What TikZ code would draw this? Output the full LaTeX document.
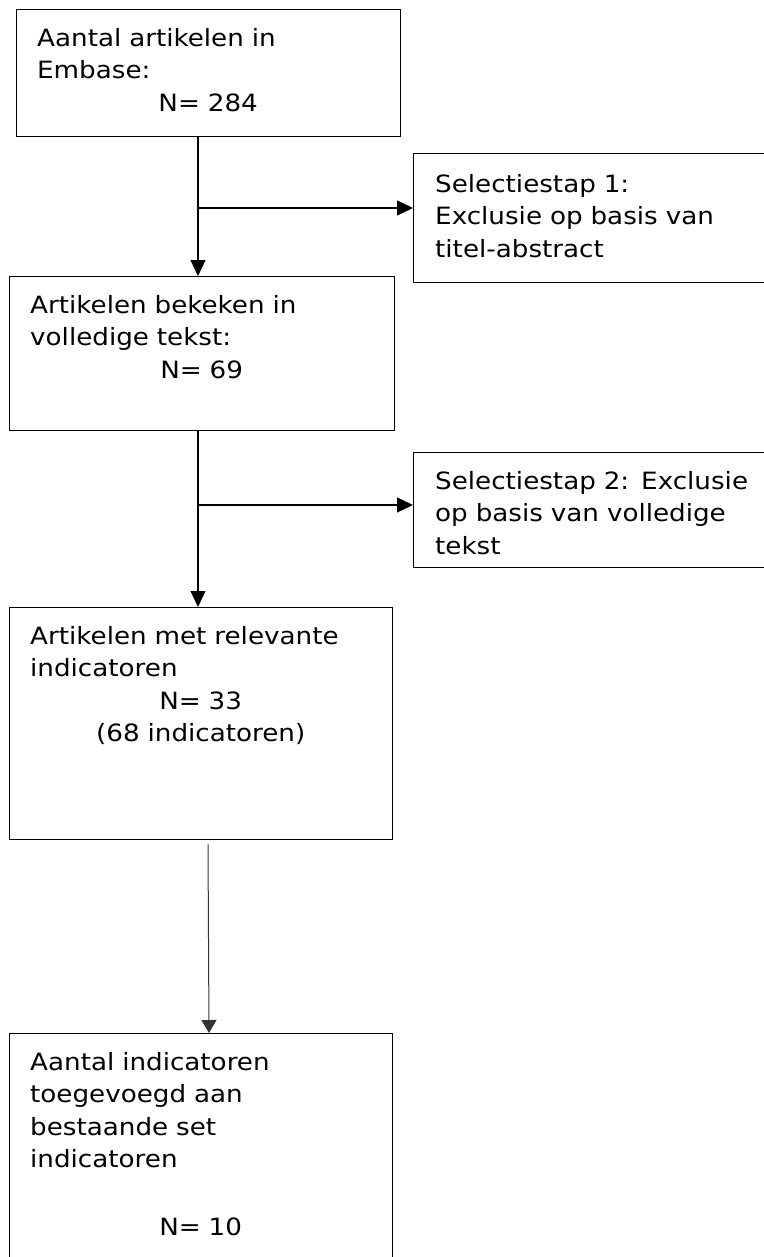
\documentclass[tikz,border=0pt]{standalone}
\usepackage{fontspec}
\setmainfont[FakeStretch=1.1]{DejaVu Sans}
\usetikzlibrary{arrows.meta}
\tikzset{
  box/.style={draw=black, line width=1.3pt, rectangle, inner sep=0pt, anchor=north west},
  txt/.style={anchor=north west, inner sep=0pt, align=left,
    font=\fontsize{23.8}{32.5}\selectfont},
  conn/.style={draw=black, line width=1.2pt, -{Triangle[width=15pt,length=16pt]}},
  thinconn/.style={draw=black!80, line width=1pt, -{Triangle[width=15pt,length=13pt]}}
}
\newcommand{\firststrut}{\rule{0pt}{37pt}}
\begin{document}
\begin{tikzpicture}[x=1pt,y=-1pt]
\useasboundingbox (0,0) rectangle (763,1257);
% boxes
\node[box, minimum width=384pt, minimum height=127pt] (b1) at (16,9) {};
\node[box, minimum width=385pt, minimum height=154pt] (b2) at (9,276) {};
\node[box, minimum width=383pt, minimum height=232pt] (b3) at (9,607) {};
\node[box, minimum width=383pt, minimum height=260pt] (b4) at (9,1033) {};
\node[box, minimum width=380pt, minimum height=129pt] (s1) at (413,153) {};
\node[box, minimum width=380pt, minimum height=115pt] (s2) at (413,452) {};
% texts
\node[txt, text width=342pt] (t1) at (37,9) {\firststrut Aantal artikelen in\\Embase:\\\hfill N= 284\hfill\null};
\node[txt, text width=343pt] (t2) at (30,276) {\firststrut Artikelen bekeken in\\volledige tekst:\\\hfill N= 69\hfill\null};
\node[txt, text width=341pt] (t3) at (30,607) {\firststrut Artikelen met relevante\\indicatoren\\\hfill N= 33\hfill\null\\\hfill (68 indicatoren)\hfill\null};
\node[txt, text width=341pt] (t4) at (30,1033) {\firststrut Aantal indicatoren\\toegevoegd aan\\bestaande set\\indicatoren\\[35pt]\hfill N= 10\hfill\null};
\node[txt, text width=325pt] (t5) at (435,153) {\rule{0pt}{39pt}Selectiestap 1:\\Exclusie op basis van\\titel-abstract};
\node[txt, text width=330pt] (t6) at (435,452) {\rule{0pt}{37pt}Selectiestap 2: Exclusie\\op basis van volledige\\tekst};
% connectors
\coordinate (j1) at (198,208);
\coordinate (j2) at (198,505);
\draw[conn] (b1.south -| j1) -- (b2.north -| j1);
\draw[conn] (j1) -- (s1.west |- j1);
\draw[conn] (b2.south -| j2) -- (b3.north -| j2);
\draw[conn] (j2) -- (s2.west |- j2);
\coordinate (c3a) at (208,0);
\coordinate (c3b) at (209,0);
\draw[thinconn] ([yshift=-4pt]b3.south -| c3a) -- (b4.north -| c3b);
\end{tikzpicture}
\end{document}
